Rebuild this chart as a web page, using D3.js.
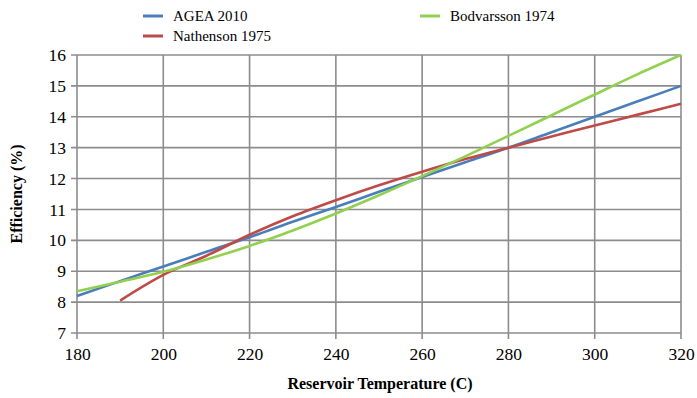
<!DOCTYPE html>
<html>
<head>
<meta charset="utf-8">
<script src="https://cdn.jsdelivr.net/npm/d3@7"></script>
<style>
  body { margin: 0; background: #fff; }
  svg text { font-family: "Liberation Serif", "Times New Roman", serif; }
</style>
</head>
<body>
<svg id="chart" width="697" height="398"></svg>
<script>
// data
var temps = [180, 190, 200, 210, 220, 230, 240, 250, 260, 270, 280, 290, 300, 310, 320];
var agea = [8.2, 8.68, 9.15, 9.63, 10.1, 10.6, 11.08, 11.57, 12.05, 12.53, 13.0, 13.5, 14.0, 14.5, 15.0];
var nathenson = [null, 8.05, 8.88, 9.5, 10.18, 10.78, 11.3, 11.78, 12.22, 12.63, 13.0, 13.36, 13.72, 14.07, 14.42];
var bodvarsson = [8.35, 8.66, 8.98, 9.38, 9.82, 10.32, 10.87, 11.46, 12.08, 12.72, 13.38, 14.05, 14.72, 15.38, 16.0];
var xTicks = [180, 200, 220, 240, 260, 280, 300, 320];
var yTicks = [7, 8, 9, 10, 11, 12, 13, 14, 15, 16];

var series = [
    { name: "AGEA 2010", values: agea, color: "#4a7ebb" },
    { name: "Nathenson 1975", values: nathenson, color: "#be4b48" },
    { name: "Bodvarsson 1974", values: bodvarsson, color: "#92d050" }
];

var svg = d3.select("#chart");
var pLeft = 77, pRight = 681, pTop = 55, pBottom = 333;

var x = d3.scaleLinear().domain([180, 320]).range([pLeft, pRight]);
var y = d3.scaleLinear().domain([7, 16]).range([pBottom, pTop]);
var gridColor = "#8c8c8c";
var serif = "'Liberation Serif', 'Times New Roman', serif";

// gridlines
svg.append("g")
    .selectAll("line")
    .data(yTicks)
    .enter()
    .append("line")
    .attr("x1", pLeft - 6)
    .attr("x2", pRight)
    .attr("y1", function (d) { return y(d); })
    .attr("y2", function (d) { return y(d); })
    .attr("stroke", gridColor)
    .attr("stroke-width", 1.6);

svg.append("g")
    .selectAll("line")
    .data(xTicks)
    .enter()
    .append("line")
    .attr("x1", function (d) { return x(d); })
    .attr("x2", function (d) { return x(d); })
    .attr("y1", pTop)
    .attr("y2", pBottom + 6)
    .attr("stroke", gridColor)
    .attr("stroke-width", 1.6);

// axis labels
svg.append("g")
    .attr("transform", "translate(" + (pLeft - 8) + ",0)")
    .call(d3.axisLeft(y).tickValues(yTicks).tickSize(0).tickPadding(3))
    .attr("font-family", serif);
svg.append("g")
    .attr("transform", "translate(0," + (pBottom + 12) + ")")
    .call(d3.axisBottom(x).tickValues(xTicks).tickSize(0).tickPadding(3))
    .attr("font-family", serif);
svg.selectAll(".domain").remove();
svg.selectAll(".tick text")
    .style("font-family", serif)
    .style("font-size", "17.5px")
    .attr("fill", "#000");

// series
var line = d3.line()
    .defined(function (d) { return d[1] != null; })
    .x(function (d) { return x(d[0]); })
    .y(function (d) { return y(d[1]); })
    .curve(d3.curveMonotoneX);

series.forEach(function (s) {
    var pts = temps.map(function (t, i) { return [t, s.values[i]]; });
    svg.append("path")
        .attr("d", line(pts))
        .attr("fill", "none")
        .attr("stroke", s.color)
        .attr("stroke-width", 2.6);
});

// axis titles
svg.append("text")
    .attr("x", 380)
    .attr("y", 389)
    .attr("text-anchor", "middle")
    .attr("font-weight", "bold")
    .attr("font-size", 16)
    .text("Reservoir Temperature (C)");

svg.append("text")
    .attr("transform", "translate(22,194) rotate(-90)")
    .attr("text-anchor", "middle")
    .attr("font-weight", "bold")
    .attr("font-size", 16)
    .text("Efficiency (%)");

// legend
var legendPos = [[143, 16], [143, 36], [420, 16]];
series.forEach(function (s, i) {
    var p = legendPos[i];
    svg.append("line")
        .attr("x1", p[0]).attr("x2", p[0] + 20)
        .attr("y1", p[1]).attr("y2", p[1])
        .attr("stroke", s.color)
        .attr("stroke-width", 3);
    svg.append("text")
        .attr("x", p[0] + 30)
        .attr("y", p[1] + 5)
        .attr("font-size", 15)
        .text(s.name);
});
</script>
</body>
</html>
